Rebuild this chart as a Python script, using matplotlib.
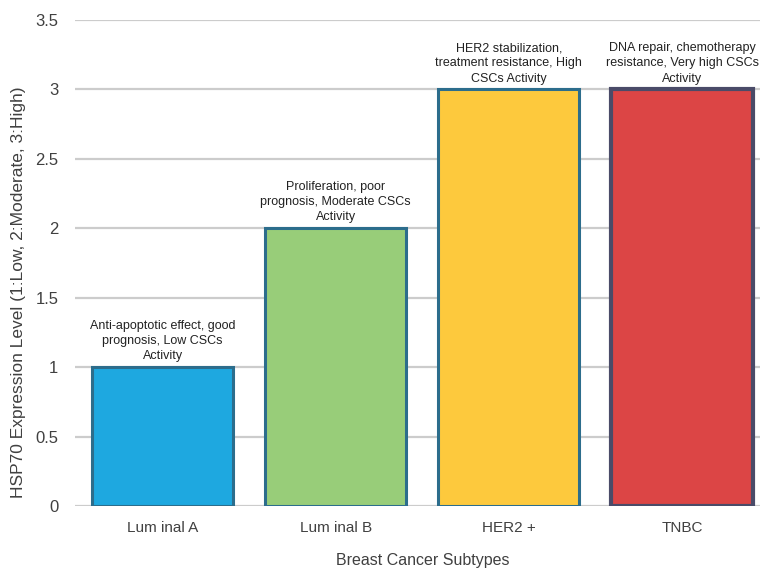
import matplotlib.pyplot as plt

subtypes = ['Lum inal A', 'Lum inal B', 'HER2 +', 'TNBC']
levels = [1, 2, 3, 3]
notes = [
    'Anti-apoptotic effect, good\nprognosis, Low CSCs\nActivity',
    'Proliferation, poor\nprognosis, Moderate CSCs\nActivity',
    'HER2 stabilization,\ntreatment resistance, High\nCSCs Activity',
    'DNA repair, chemotherapy\nresistance, Very high CSCs\nActivity',
]
yticks = [0, 0.5, 1, 1.5, 2, 2.5, 3, 3.5]

fill_colors = ['#1ea8e0', '#98cd79', '#fdc93d', '#dc4545']
edge_colors = ['#2c6d8c', '#2c6d8c', '#2c6d8c', '#4a4b68']
edge_widths = [2.2, 2.2, 2.2, 3.0]

plt.rcParams['font.family'] = ['Liberation Sans', 'DejaVu Sans']

fig = plt.figure(figsize=(7.6, 5.68), dpi=100)
ax = fig.add_axes([0.0987, 0.1092, 0.914, 0.8556])

x = range(len(subtypes))
bars = ax.bar(x, levels, width=0.815, color=fill_colors,
              edgecolor=edge_colors, linewidth=edge_widths, zorder=3)

# 说明文字放在柱子上方
for i, (lvl, txt) in enumerate(zip(levels, notes)):
    ax.annotate(txt, xy=(i, lvl), xytext=(0, 3.5), textcoords='offset points',
                ha='center', va='bottom', fontsize=9, color='#222222',
                linespacing=1.35)

ax.set_xlim(-0.506, 3.506)
ax.set_ylim(0, 3.5)
ax.set_yticks(yticks)
ax.set_yticklabels(['0', '0.5', '1', '1.5', '2', '2.5', '3', '3.5'])
ax.set_xticks(list(x))
ax.set_xticklabels(subtypes, fontsize=11, color='#404040')

ax.yaxis.grid(True, color='#cccccc', linewidth=1.6, zorder=0)
ax.set_axisbelow(True)
for s in ax.spines.values():
    s.set_visible(False)
ax.tick_params(axis='both', length=0)
ax.tick_params(axis='y', pad=12, labelsize=12, labelcolor='#404040')
ax.tick_params(axis='x', pad=11)

ax.set_xlabel('Breast Cancer Subtypes', fontsize=11.5, color='#404040')
ax.xaxis.set_label_coords(0.5, -0.097)
ax.set_ylabel('HSP70 Expression Level (1:Low, 2:Moderate, 3:High)',
              fontsize=12.5, color='#404040')
ax.yaxis.set_label_coords(-0.071, 0.44)

fig.savefig('out.png', dpi=100)
